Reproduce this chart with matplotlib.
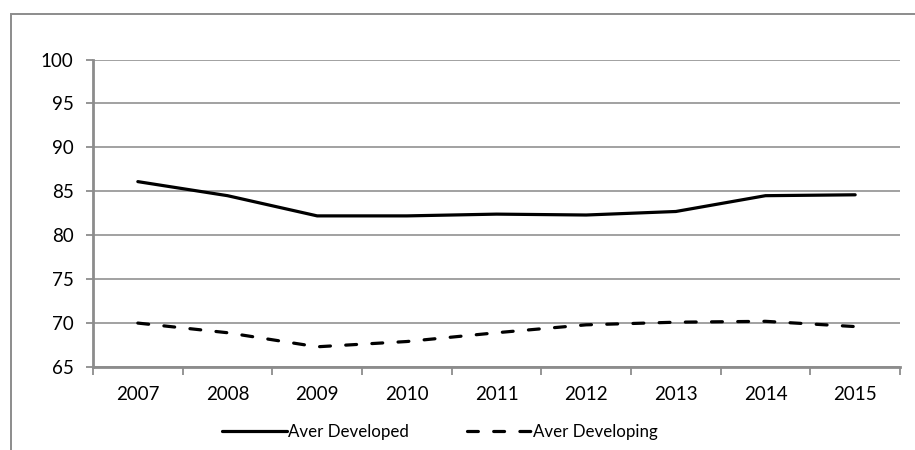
import matplotlib.pyplot as plt
from matplotlib.patches import Rectangle

years = ['2007', '2008', '2009', '2010', '2011', '2012', '2013', '2014', '2015']
aver_developed = [86.1, 84.5, 82.2, 82.2, 82.4, 82.3, 82.7, 84.5, 84.6]
aver_developing = [70.0, 68.9, 67.3, 67.9, 68.9, 69.8, 70.1, 70.2, 69.6]
y_ticks = [65, 70, 75, 80, 85, 90, 95, 100]

plt.rcParams['font.family'] = ['Lato', 'DejaVu Sans']

fig = plt.figure(figsize=(9.15, 4.5), dpi=100)
# frame around the chart, open on the right and at the bottom
fig.patches.append(Rectangle((11 / 915, -0.1), 1.2, 1.1 - 14 / 450,
                             transform=fig.transFigure, fill=False,
                             edgecolor='#8c8c8c', linewidth=1.4))

ax = fig.add_axes([93 / 915, 1 - 367 / 450, 807 / 915, 307.5 / 450])
x = list(range(len(years)))

ax.plot(x, aver_developed, color='black', linewidth=2.3,
        solid_capstyle='round', label='Aver Developed')
ax.plot(x, aver_developing, color='black', linewidth=2.3,
        dashes=(3.4, 4.8), dash_capstyle='round', label='Aver Developing')

ax.set_xlim(-0.5, len(years) - 0.5)
ax.set_ylim(65, 100)
ax.set_yticks(y_ticks)
ax.yaxis.grid(True, color='#9a9a9a', linewidth=1.3)
ax.set_axisbelow(True)

# category labels centred, tick marks on the boundaries
ax.set_xticks([i - 0.5 for i in range(len(years) + 1)])
ax.set_xticklabels([])
ax.set_xticks(x, minor=True)
ax.set_xticklabels(years, minor=True)
ax.tick_params(axis='x', which='major', length=6, width=1.3, color='#8c8c8c')
ax.tick_params(axis='x', which='minor', length=0, pad=14, labelsize=13.5)
ax.tick_params(axis='y', length=5, width=1.3, color='#8c8c8c', labelsize=13.5, pad=9)

for side in ('top', 'right'):
    ax.spines[side].set_visible(False)
for side in ('left', 'bottom'):
    ax.spines[side].set_color('#8c8c8c')
    ax.spines[side].set_linewidth(2.0)

ax.legend(loc='center', bbox_to_anchor=(0.43, -0.211), ncol=2,
          frameon=False, fontsize=12.2, handlelength=3.8, handletextpad=0.1,
          columnspacing=3.4, borderpad=0)

fig.savefig('out.png', dpi=100)
